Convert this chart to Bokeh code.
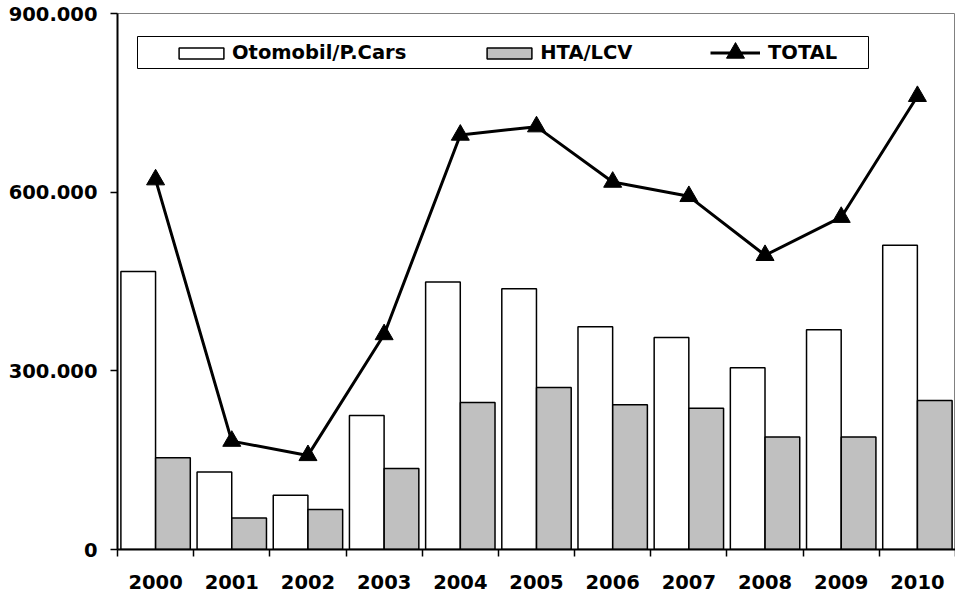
import numpy as np
from bokeh.plotting import figure
from bokeh.models import (ColumnDataSource, Range1d, FixedTicker, CustomJSTickFormatter,
                          Legend, LegendItem, BoxAnnotation)
from bokeh.transform import dodge
from bokeh.embed import file_html
from bokeh.resources import INLINE

years = ["2000", "2001", "2002", "2003", "2004", "2005", "2006", "2007", "2008", "2009", "2010"]
cars = [467000, 130000, 91000, 225000, 449000, 438000, 374000, 356000, 305000, 369000, 511000]
lcv = [154000, 53000, 67000, 136000, 247000, 272000, 243000, 237000, 189000, 189000, 250000]
total = [621000, 182000, 158000, 361000, 696000, 710000, 617000, 593000, 494000, 558000, 761000]
y_ticks = [0, 300000, 600000, 900000]
y_tick_labels = ["0", "300.000", "600.000", "900.000"]

n = len(years)
xc = np.arange(n) + 0.5
src = ColumnDataSource(data=dict(x=xc, cars=cars, lcv=lcv, total=total))

FONT = "DejaVu Sans"
FS = "19.5px"

p = figure(width=955, height=599, output_backend="svg", toolbar_location=None,
           x_range=Range1d(0, n), y_range=Range1d(0, 900000),
           min_border_left=117, min_border_top=13, min_border_right=0, min_border_bottom=50)
p.background_fill_color = "white"
p.border_fill_color = "white"
p.outline_line_color = "#808080"
p.outline_line_width = 1
p.xgrid.visible = False
p.ygrid.visible = False

r_cars = p.vbar(x=dodge("x", -0.228, range=p.x_range), top="cars", width=0.455, source=src,
                fill_color="white", line_color="black", line_width=1.5)
r_lcv = p.vbar(x=dodge("x", 0.228, range=p.x_range), top="lcv", width=0.455, source=src,
               fill_color="#C0C0C0", line_color="black", line_width=1.5)
r_line = p.line(x="x", y="total", source=src, line_color="black", line_width=3)
r_pts = p.scatter(x="x", y="total", source=src, marker="triangle", size=18,
                  fill_color="black", line_color="black", line_width=1)

# x axis
xa = p.xaxis[0]
xa.ticker = FixedTicker(ticks=list(xc), minor_ticks=list(range(n + 1)))
xa.formatter = CustomJSTickFormatter(args=dict(year_labels=years),
                                     code="return year_labels[Math.floor(tick)];")
xa.major_tick_line_color = None
xa.major_tick_out = 7
xa.major_tick_in = 0
xa.minor_tick_out = 7
xa.minor_tick_in = 0
xa.minor_tick_line_color = "black"
xa.minor_tick_line_width = 1.5
xa.axis_line_width = 2
xa.axis_line_color = "black"
xa.major_label_text_font = FONT
xa.major_label_text_font_style = "bold"
xa.major_label_text_font_size = FS
xa.major_label_text_color = "black"
xa.major_label_standoff = 18

# y axis
ya = p.yaxis[0]
ya.ticker = FixedTicker(ticks=y_ticks)
ya.formatter = CustomJSTickFormatter(args=dict(yt=y_ticks, yl=y_tick_labels),
                                     code="const i = yt.indexOf(tick); return i >= 0 ? yl[i] : '';")
ya.major_tick_out = 7
ya.major_tick_in = 0
ya.minor_tick_line_color = None
ya.major_tick_line_width = 1.5
ya.major_tick_line_color = "black"
ya.axis_line_width = 2
ya.axis_line_color = "black"
ya.major_label_text_font = FONT
ya.major_label_text_font_style = "bold"
ya.major_label_text_font_size = FS
ya.major_label_text_color = "black"
ya.major_label_standoff = 13

common = dict(orientation="horizontal", padding=0, margin=0,
              label_text_font=FONT, label_text_font_style="bold", label_text_font_size=FS,
              label_text_color="black", border_line_color=None, background_fill_alpha=0)

legend_bars = Legend(items=[
    LegendItem(label="Otomobil/P.Cars", renderers=[r_cars]),
    LegendItem(label="HTA/LCV", renderers=[r_lcv]),
], location=(56, 485), spacing=75, glyph_width=56, glyph_height=14, label_standoff=3, **common)
p.add_layout(legend_bars)

legend_total = Legend(items=[
    LegendItem(label="TOTAL", renderers=[r_line, r_pts]),
], location=(593, 474), glyph_width=50, glyph_height=45, label_standoff=8, **common)
p.add_layout(legend_total)

box = BoxAnnotation(left=137, right=868, top=36, bottom=68,
                    left_units="canvas", right_units="canvas", top_units="canvas", bottom_units="canvas",
                    fill_alpha=0, line_color="black", line_width=1, line_alpha=1)
p.add_layout(box)

open("out.html", "w").write(file_html(p, INLINE))
